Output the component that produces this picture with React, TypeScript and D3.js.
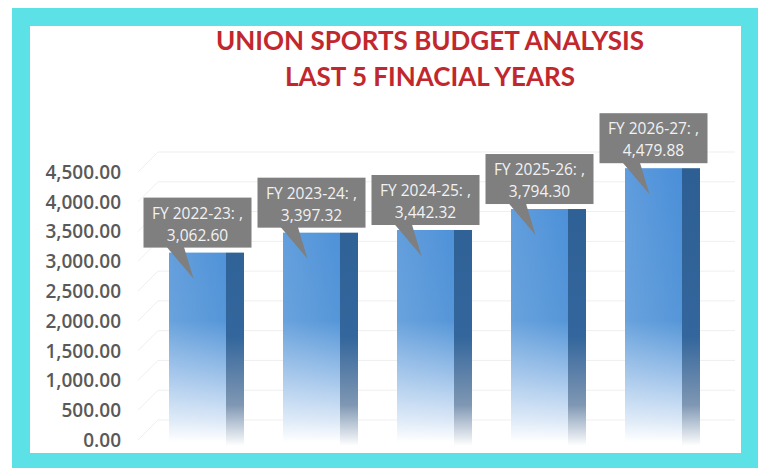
import React, { useEffect, useRef } from 'react';
import * as d3 from 'd3';

const categories = ['FY 2022-23', 'FY 2023-24', 'FY 2024-25', 'FY 2025-26', 'FY 2026-27'];
const budget = [3062.6, 3397.32, 3442.32, 3794.3, 4479.88];
const yTicks = [0, 500, 1000, 1500, 2000, 2500, 3000, 3500, 4000, 4500];
const titleLines = ['UNION SPORTS BUDGET ANALYSIS', 'LAST 5 FINACIAL YEARS'];

const W = 759;
const H = 468;

const App: React.FC = () => {
  const svgRef = useRef<SVGSVGElement>(null);

  useEffect(() => {
    if (!svgRef.current) return;
    const svg = d3.select(svgRef.current);
    svg.selectAll('*').remove();

    const x = d3.scaleBand<string>().domain(categories).range([140.5, 710.5])
      .paddingInner(0.5).paddingOuter(0.25);
    const y = d3.scaleLinear().domain([0, 4500]).range([440, 172]);
    const depth = 18;
    const lift = 5; // 3D perspective lift of the bars
    const fmt = d3.format(',.2f');

    const defs = svg.append('defs');
    // front face: solid blue at top, fades into white near the floor
    const gFront = defs.append('linearGradient').attr('id', 'front')
      .attr('gradientUnits', 'userSpaceOnUse')
      .attr('x1', 0).attr('x2', 0).attr('y1', y(4500)).attr('y2', y(0) + 2);
    gFront.append('stop').attr('offset', 0).attr('stop-color', '#4a8fd9');
    gFront.append('stop').attr('offset', 0.55).attr('stop-color', '#5596d8');
    gFront.append('stop').attr('offset', 0.75).attr('stop-color', '#9cc1e9');
    gFront.append('stop').attr('offset', 0.92).attr('stop-color', '#dbe8f7');
    gFront.append('stop').attr('offset', 1).attr('stop-color', '#ffffff');

    const gSide = defs.append('linearGradient').attr('id', 'side')
      .attr('gradientUnits', 'userSpaceOnUse')
      .attr('x1', 0).attr('x2', 0).attr('y1', y(4500)).attr('y2', y(0) + 6);
    gSide.append('stop').attr('offset', 0).attr('stop-color', '#2d5f94');
    gSide.append('stop').attr('offset', 0.6).attr('stop-color', '#33669c');
    gSide.append('stop').attr('offset', 0.85).attr('stop-color', '#7f97b3');
    gSide.append('stop').attr('offset', 1).attr('stop-color', '#ffffff');

    const gSheen = defs.append('linearGradient').attr('id', 'sheen')
      .attr('x1', 0).attr('x2', 1).attr('y1', 0).attr('y2', 0);
    gSheen.append('stop').attr('offset', 0).attr('stop-color', '#ffffff').attr('stop-opacity', 0.12);
    gSheen.append('stop').attr('offset', 1).attr('stop-color', '#ffffff').attr('stop-opacity', 0);

    // cyan frame
    svg.append('rect').attr('width', W).attr('height', H).attr('fill', '#ffffff');
    svg.append('rect').attr('x', 12).attr('y', 8).attr('width', 746).attr('height', 460).attr('fill', '#5ce1e6');
    svg.append('rect').attr('x', 30).attr('y', 26).attr('width', 711).attr('height', 427).attr('fill', '#ffffff');

    // faint 3D gridlines
    const grid = svg.append('g').attr('stroke', '#efefef').attr('stroke-width', 1).attr('fill', 'none');
    yTicks.forEach(t => {
      grid.append('path')
        .attr('d', `M138,${y(t)}L158,${y(t) - 20}L735,${y(t) - 20}`);
    });

    // y axis labels
    svg.append('g').selectAll('text').data(yTicks).join('text')
      .attr('x', 121).attr('y', d => y(d)).attr('dy', '0.36em')
      .attr('text-anchor', 'end')
      .attr('font-family', 'Open Sans, sans-serif').attr('font-size', 19).attr('font-weight', 600)
      .attr('fill', '#595959')
      .text(d => fmt(d));

    // bars
    const bars = svg.append('g');
    categories.forEach((c, i) => {
      const x0 = x(c)!;
      const bw = x.bandwidth();
      const top = y(budget[i]) - lift;
      bars.append('rect').attr('x', x0 + bw).attr('y', top).attr('width', depth)
        .attr('height', y(0) + 6 - top).attr('fill', 'url(#side)');
      bars.append('rect').attr('x', x0).attr('y', top).attr('width', bw)
        .attr('height', y(0) + 2 - top).attr('fill', 'url(#front)');
      bars.append('rect').attr('x', x0).attr('y', top).attr('width', bw)
        .attr('height', y(0) + 2 - top).attr('fill', 'url(#sheen)');
    });

    // callout labels
    const labels = svg.append('g').attr('font-family', 'Open Sans, sans-serif');
    categories.forEach((c, i) => {
      const cx = x(c)! + x.bandwidth() / 2;
      const top = y(budget[i]) - lift;
      const bx = cx - 54;
      const by = top - 55;
      labels.append('path')
        .attr('d', `M${cx - 32},${by + 48}L${cx - 4},${top + 26}L${cx - 14},${by + 48}Z`)
        .attr('fill', '#7f7f7f');
      labels.append('rect').attr('x', bx).attr('y', by).attr('width', 108).attr('height', 50)
        .attr('fill', '#7f7f7f');
      labels.append('text').attr('x', cx).attr('y', by + 21).attr('text-anchor', 'middle')
        .attr('font-size', 15.5).attr('fill', '#f2f2f2').text(`${c}: ,`);
      labels.append('text').attr('x', cx).attr('y', by + 43).attr('text-anchor', 'middle')
        .attr('font-size', 15.5).attr('fill', '#f2f2f2').text(fmt(budget[i]));
    });

    // title
    svg.append('g').selectAll('text').data(titleLines).join('text')
      .attr('x', 430).attr('y', (d, i) => 50 + i * 36)
      .attr('text-anchor', 'middle')
      .attr('font-family', 'Lato, sans-serif').attr('font-weight', 700).attr('font-size', 26)
      .attr('fill', '#c1272d')
      .text(d => d);
  }, []);

  return (
    <svg ref={svgRef} width={W} height={H}
      style={{ position: 'absolute', left: 0, top: 0, background: '#fff' }} />
  );
};

export default App;
